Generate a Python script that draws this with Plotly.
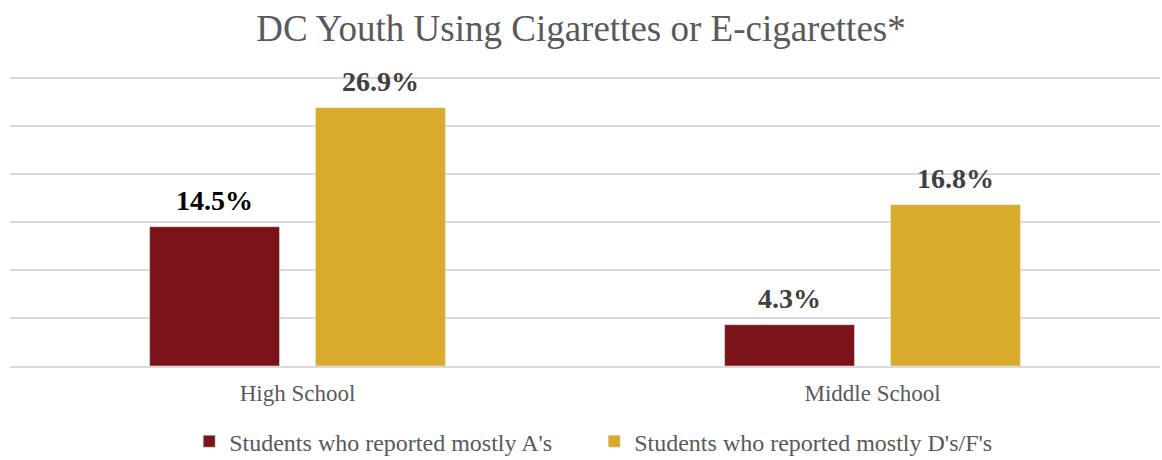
import plotly.graph_objects as go

categories = ["High School", "Middle School"]
series_names = ["Students who reported mostly A's", "Students who reported mostly D's/F's"]
values_a = [14.5, 4.3]
values_df = [26.9, 16.8]
label_colors_a = ["#000000", "#404040"]
label_colors_df = ["#404040", "#404040"]
bar_colors = ["#7B1418", "#DAAA2C"]

font_family = "Liberation Serif"

fig = go.Figure()
for name, vals, col in zip(series_names, [values_a, values_df], bar_colors):
    fig.add_trace(go.Bar(x=categories, y=vals, name=name, marker=dict(color=col)))

# value labels above bars
for vals, lcols, shift in [(values_a, label_colors_a, -83), (values_df, label_colors_df, 83)]:
    for cat, v, c in zip(categories, vals, lcols):
        fig.add_annotation(x=cat, y=v, xref="x", yref="y", text=f"<b>{v:.1f}%</b>",
                           showarrow=False, xshift=shift, yshift=9, yanchor="bottom",
                           font=dict(family=font_family, size=28, color=c))

fig.update_layout(
    width=1162, height=460,
    margin=dict(l=10, r=2, t=75, b=94),
    paper_bgcolor="white", plot_bgcolor="white",
    title=dict(text="DC Youth Using Cigarettes or E-cigarettes*", x=0.5, xanchor="center",
               y=0.94, yanchor="middle",
               font=dict(family=font_family, size=37, color="#595959")),
    barmode="group", bargap=0.423, bargroupgap=0.217,
    font=dict(family=font_family, color="#595959"),
    legend=dict(orientation="h", x=0.508, xanchor="center", yref="container", y=0.04,
                yanchor="middle",
                font=dict(family=font_family, size=24, color="#595959"),
                itemwidth=30, entrywidth=360, entrywidthmode="pixels",
                traceorder="normal"),
    xaxis=dict(tickfont=dict(family=font_family, size=23, color="#595959"),
               showline=True, linecolor="#d9d9d9", linewidth=2, ticks="",
               ticklabelstandoff=5),
    yaxis=dict(range=[0, 30.3], dtick=5, showticklabels=False, showgrid=True,
               gridcolor="#d9d9d9", gridwidth=2, zeroline=False),
)

fig.write_html("out.html")
